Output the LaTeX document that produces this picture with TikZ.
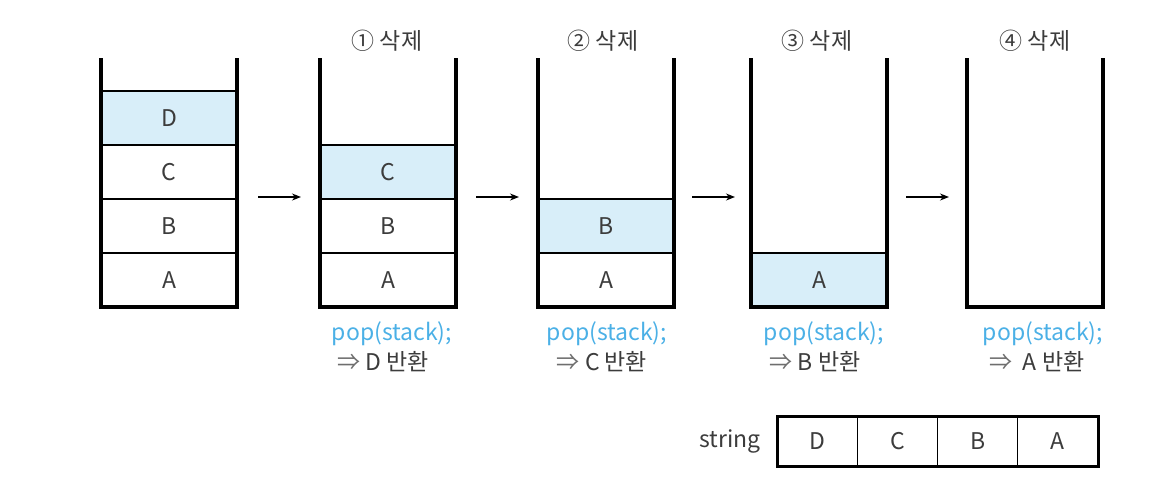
\documentclass[tikz,border=0pt]{standalone}
\usepackage{fontspec}
\setmainfont{Noto Sans CJK KR}
\usetikzlibrary{arrows.meta}
\definecolor{hl}{HTML}{D8EEF9}
\definecolor{popblue}{HTML}{4BB0E6}
\definecolor{txt}{HTML}{3C3C3C}
\definecolor{arrgray}{HTML}{6E6E6E}
\begin{document}
\begin{tikzpicture}[x=1pt,y=-1pt,
  every node/.style={font=\fontsize{23}{26}\selectfont, text=txt},
  wall/.style={line width=3.2pt, line join=miter},
  cell/.style={draw, line width=1.8pt, minimum width=136pt, minimum height=54pt, inner sep=0pt},
  scell/.style={draw, line width=1.4pt, minimum width=80.25pt, minimum height=50pt, inner sep=0pt},
  arr/.style={line width=1.4pt, -{Stealth[length=9pt,width=7pt]}},
  pop/.style={text=popblue},
  ret/.style={}]
\useasboundingbox (0,0) rectangle (1152,488);
% stack 0
\node[cell, fill=hl] (s0d) at (169,118) {D};
\node[cell] (s0c) at (169,172) {C};
\node[cell] (s0b) at (169,226) {B};
\node[cell] (s0a) at (169,280) {A};
\draw[wall] (101,58) -- (101,307) -- (237,307) -- (237,58);
% stack 1
\node[cell, fill=hl] (s1c) at (388,172) {C};
\node[cell] (s1b) at (388,226) {B};
\node[cell] (s1a) at (388,280) {A};
\draw[wall] (320,58) -- (320,307) -- (456,307) -- (456,58);
% stack 2
\node[cell, fill=hl] (s2b) at (606,226) {B};
\node[cell] (s2a) at (606,280) {A};
\draw[wall] (538,58) -- (538,307) -- (674,307) -- (674,58);
% stack 3
\node[cell, fill=hl] (s3a) at (819,280) {A};
\draw[wall] (751,58) -- (751,307) -- (887,307) -- (887,58);
% stack 4
\draw[wall] (967,58) -- (967,307) -- (1103,307) -- (1103,58);
% titles
\node (t1) at (387,41) {① 삭제};
\node (t2) at (603,41) {② 삭제};
\node (t3) at (817,41) {③ 삭제};
\node (t4) at (1035,41) {④ 삭제};
% arrows
\coordinate (a1s) at (258,197); \coordinate (a1e) at (301,197);
\coordinate (a2s) at (476,197); \coordinate (a2e) at (519,197);
\coordinate (a3s) at (692,197); \coordinate (a3e) at (735,197);
\coordinate (a4s) at (906,197); \coordinate (a4e) at (949,197);
\draw[arr] (a1s) -- (a1e);
\draw[arr] (a2s) -- (a2e);
\draw[arr] (a3s) -- (a3e);
\draw[arr] (a4s) -- (a4e);
% pop texts
\node[pop] (p1) at (392,334) {pop(stack);};
\node[pop] (p2) at (607,334) {pop(stack);};
\node[pop] (p3) at (824,334) {pop(stack);};
\node[pop] (p4) at (1043,334) {pop(stack);};
\node (r1) at (383,362) {\textcolor{arrgray}{⇒} D 반환};
\node (r2) at (602,362) {\textcolor{arrgray}{⇒} C 반환};
\node (r3) at (815,362) {\textcolor{arrgray}{⇒} B 반환};
\node (r4) at (1037,362) {\textcolor{arrgray}{⇒}\ \ A 반환};
% string
\node (slbl) at (730,441) {string};
\node[scell] (sd) at (817.1,441) {D};
\node[scell] (sc) at (897.4,441) {C};
\node[scell] (sb) at (977.6,441) {B};
\node[scell] (sa) at (1057.9,441) {A};
\draw[line width=3pt] (777,416) rectangle (1098,466);
\end{tikzpicture}
\end{document}
